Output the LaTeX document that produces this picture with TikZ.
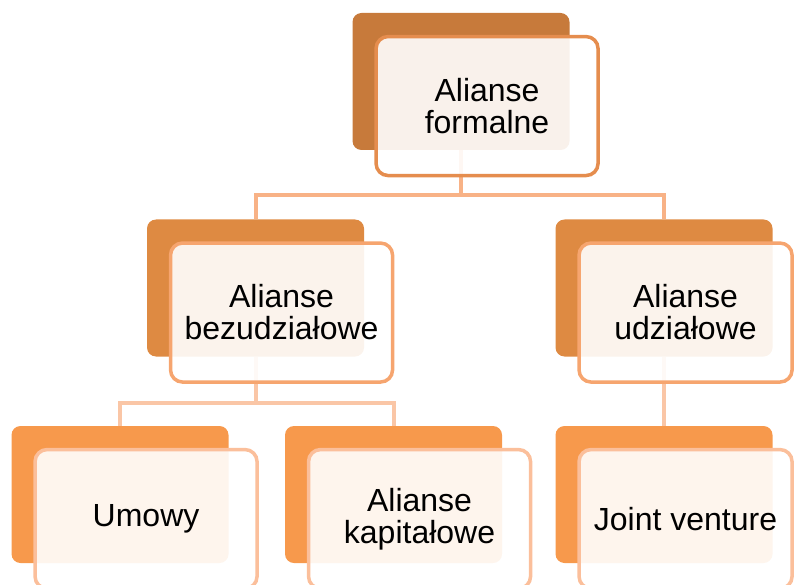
\documentclass[tikz,border=0pt]{standalone}
\usepackage{fontspec}
\setmainfont{Liberation Sans}
\usetikzlibrary{positioning}

\definecolor{topback}{HTML}{C77A3B}
\definecolor{topedge}{HTML}{E58D4E}
\definecolor{midback}{HTML}{DE8A42}
\definecolor{midedge}{HTML}{F6A56F}
\definecolor{lowback}{HTML}{F7994C}
\definecolor{lowedge}{HTML}{FBBF9B}
\definecolor{toplink}{HTML}{F8B286}
\definecolor{lowlink}{HTML}{FAC6A6}

\begin{document}
\begin{tikzpicture}[
  x=1pt, y=-1pt,
  back/.style={rectangle, rounded corners=9pt, minimum width=217pt, minimum height=137pt, inner sep=0pt},
  front/.style={rectangle, draw, line width=3.5pt, rounded corners=12pt, fill=white, fill opacity=0.9, text opacity=1,
    minimum width=222pt, minimum height=139pt, inner sep=0pt, anchor=north west, align=center,
    font=\fontsize{32}{32}\selectfont},
  link/.style={line width=4pt}
]
\clip (0,0) rectangle (794,585);

% back cards
\node[back, fill=topback] (formalneBack) at (461,81.5) {};
\node[back, fill=midback] (bezBack) at (255.5,288) {};
\node[back, fill=midback] (udzBack) at (664,288) {};
\node[back, fill=lowback] (umowyBack) at (120,494.5) {};
\node[back, fill=lowback] (kapBack) at (393.5,494.5) {};
\node[back, fill=lowback] (jvBack) at (664,494.5) {};

% connectors
\coordinate (split1) at (461,195);
\coordinate (split2) at (255.5,403);
\draw[link, toplink] (formalneBack.south) -- (split1) -| (bezBack.north);
\draw[link, toplink] (split1) -| (udzBack.north);
\draw[link, lowlink] (bezBack.south) -- (split2) -| (umowyBack.north);
\draw[link, lowlink] (split2) -| (kapBack.north);
\draw[link, lowlink] (udzBack.south) -- (jvBack.north);

% front cards with text
\node[front, draw=topedge] (formalne) at ([shift={(22,22)}]formalneBack.north west) {Alianse\\formalne};
\node[front, draw=midedge] (bez) at ([shift={(22,22)}]bezBack.north west) {Alianse\\bezudziałowe};
\node[front, draw=midedge, minimum width=213pt] (udz) at ([shift={(22,22)}]udzBack.north west) {Alianse\\udziałowe};
\node[front, draw=lowedge] (umowy) at ([shift={(22,22)}]umowyBack.north west) {Umowy};
\node[front, draw=lowedge] (kap) at ([shift={(22,22)}]kapBack.north west) {Alianse\\kapitałowe};
\node[front, draw=lowedge, minimum width=213pt] (jv) at ([shift={(22,22)}]jvBack.north west) {Joint venture};

\end{tikzpicture}
\end{document}
